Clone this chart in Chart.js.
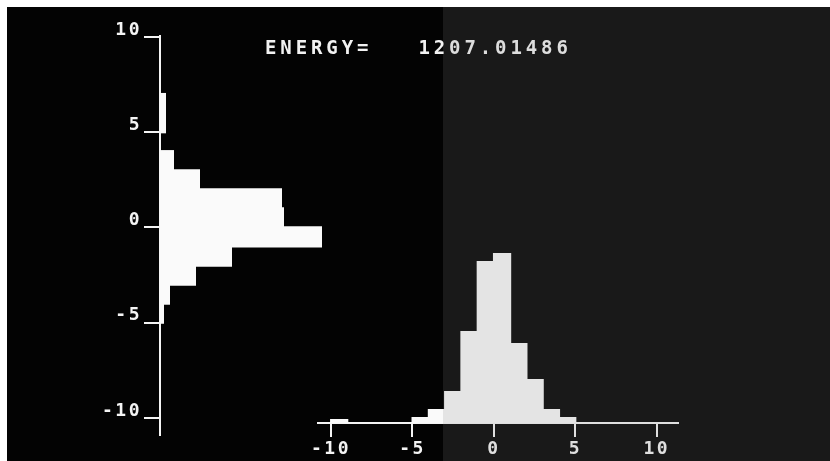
<!DOCTYPE html>
<html>
<head>
<meta charset="utf-8">
<script src="https://cdn.jsdelivr.net/npm/chart.js@4.4.1/dist/chart.umd.min.js"></script>
<style>
  html, body { margin: 0; padding: 0; background: #fff; width: 830px; height: 461px; overflow: hidden; }
  #screen { position: absolute; left: 7px; top: 7px; width: 823px; height: 454px; background: #030303; }
  canvas { position: absolute; left: 0; top: 0; }
  #energy {
    position: absolute; left: 265px; top: 38px;
    font: bold 19px "DejaVu Sans Mono", monospace; line-height: 19px;
    letter-spacing: 3.9px; white-space: pre; color: #f2f2f2;
  }
  #glare { position: absolute; left: 443px; top: 7px; width: 387px; height: 454px; backdrop-filter: contrast(0.82); }
</style>
</head>
<body>
<div id="screen"></div>
<canvas id="sideHist" width="830" height="461"></canvas>
<canvas id="bottomHist" width="830" height="461"></canvas>
<div id="energy">ENERGY=   1207.01486</div>
<div id="glare"></div>
<script>
// bin centres (bins are one unit wide, from -10 to 10)
const binCenters = [-9.5, -8.5, -7.5, -6.5, -5.5, -4.5, -3.5, -2.5, -1.5, -0.5,
                    0.5, 1.5, 2.5, 3.5, 4.5, 5.5, 6.5, 7.5, 8.5, 9.5];
// counts of the histogram drawn sideways along the vertical axis
const sideCounts = [0, 0, 0, 0, 0, 2, 5, 18, 36, 81,
                    62, 61, 20, 7, 0, 3, 3, 0, 0, 0];
// counts of the histogram standing on the horizontal axis
const bottomCounts = [2, 0, 0, 0, 0, 3, 7, 16, 46, 81,
                      85, 40, 22, 7, 3, 0, 0, 0, 0, 0];
const axisTicks = [-10, -5, 0, 5, 10];

const ink = "#f4f4f4";
const tickFont = { family: "'DejaVu Sans Mono', monospace", size: 18, weight: "bold" };

// wider character spacing like the terminal font
const crtText = {
    id: "crtText",
    beforeUpdate(chart) { chart.ctx.letterSpacing = "2.5px"; },
    beforeDraw(chart) { chart.ctx.letterSpacing = "2.5px"; }
};

function axisStyle(tickLength, labelOffset) {
    return {
        type: "linear",
        offset: false,
        afterBuildTicks: s => { s.ticks = axisTicks.map(v => ({ value: v })); },
        border: { display: true, color: ink, width: 2 },
        grid: { drawOnChartArea: false, drawTicks: true, tickLength: tickLength, color: ink, lineWidth: 2, offset: false },
        ticks: { color: ink, font: tickFont, padding: 2, labelOffset: labelOffset, maxRotation: 0, autoSkip: false,
                 callback: v => String(v) }
    };
}

const sideAxis = axisStyle(16, -7);
sideAxis.position = "left";
sideAxis.min = -10.9;
sideAxis.max = 10.05;
sideAxis.afterFit = s => { s.width = 160; };

new Chart(document.getElementById("sideHist"), {
    type: "bar",
    data: {
        datasets: [{
            data: binCenters.map((c, i) => ({ x: sideCounts[i], y: c })),
            backgroundColor: "#fafafa",
            borderWidth: 0,
            barPercentage: 1.12,
            categoryPercentage: 1
        }]
    },
    options: {
        indexAxis: "y",
        responsive: false,
        animation: false,
        layout: { padding: { left: 0, right: 470, top: 36, bottom: 26 } },
        plugins: { legend: { display: false }, tooltip: { enabled: false } },
        scales: {
            x: { display: false, min: 0, max: 100 },
            y: sideAxis
        }
    },
    plugins: [crtText]
});

const baseAxis = axisStyle(14, 0);
baseAxis.position = "bottom";
baseAxis.min = -10.8;
baseAxis.max = 11.3;
baseAxis.afterFit = s => { s.height = 38; };

new Chart(document.getElementById("bottomHist"), {
    type: "bar",
    data: {
        datasets: [{
            data: binCenters.map((c, i) => ({ x: c, y: bottomCounts[i] })),
            backgroundColor: "#fafafa",
            borderWidth: 0,
            barPercentage: 1.12,
            categoryPercentage: 1
        }]
    },
    options: {
        responsive: false,
        animation: false,
        layout: { padding: { left: 318, right: 152, top: 223, bottom: 0 } },
        plugins: { legend: { display: false }, tooltip: { enabled: false } },
        scales: {
            x: baseAxis,
            y: { display: false, min: 0, max: 100 }
        }
    },
    plugins: [crtText]
});
</script>
</body>
</html>
